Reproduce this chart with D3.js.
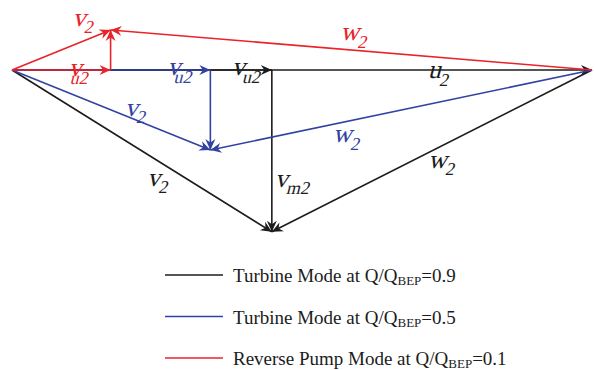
<!DOCTYPE html>
<html>
<head>
<meta charset="utf-8">
<script src="https://cdn.jsdelivr.net/npm/d3@7"></script>
<style>
  html, body { margin: 0; padding: 0; background: #fff; }
  svg { display: block; }
</style>
</head>
<body>
<svg id="chart" width="595" height="370"></svg>
<script>
// Outlet velocity triangles, all velocities normalised by blade speed u2.
const modeNames = ["Turbine Mode at Q/Q", "Turbine Mode at Q/Q", "Reverse Pump Mode at Q/Q"];
const modeSub = ["BEP", "BEP", "BEP"];
const flowRatio = ["0.9", "0.5", "0.1"];
const bladeSpeed = 1.0;                      // u2
const circumferential = [0.448, 0.342, 0.170]; // vu2 / u2
const meridional = [0.279, 0.138, -0.069];     // vm2 / u2 (negative: reversed flow)
const modeColors = ["#1c1c1c", "#3242a0", "#e8232a"];

// Vector labels: which triangle, which vector, where along it, and text offset.
const labels = [
  { mode: 0, vec: "vu2", t: 1.0,   dx: -40, dy: 5,  main: "v", sub: "u2", subDx: -1 },
  { mode: 0, vec: "u2",  t: 0.717, dx: 0,   dy: 8,  main: "u", sub: "2",  subDx: 0 },
  { mode: 0, vec: "v2",  t: 0.523, dx: -1,  dy: 31, main: "v", sub: "2",  subDx: 0 },
  { mode: 0, vec: "vm2", t: 0.722, dx: 3,   dy: 0,  main: "v", sub: "m2", subDx: 0 },
  { mode: 0, vec: "w2",  t: 0.5125,dx: 0,   dy: 15, main: "w", sub: "2",  subDx: 0 },
  { mode: 1, vec: "vu2", t: 1.0,   dx: -43, dy: 5,  main: "v", sub: "u2", subDx: -5 },
  { mode: 1, vec: "v2",  t: 0.569, dx: 0,   dy: 0,  main: "v", sub: "2",  subDx: 0 },
  { mode: 1, vec: "w2",  t: 0.679, dx: 0,   dy: 18, main: "w", sub: "2",  subDx: 0 },
  { mode: 2, vec: "v2",  t: 1.0,   dx: -38, dy: -4, main: "v", sub: "2",  subDx: 0 },
  { mode: 2, vec: "vu2", t: 1.0,   dx: -42, dy: 6,  main: "v", sub: "u2", subDx: -10 },
  { mode: 2, vec: "w2",  t: 0.523, dx: 0,   dy: -9, main: "w", sub: "2",  subDx: 0 }
];

const svg = d3.select("#chart");
svg.append("rect").attr("width", 595).attr("height", 370).attr("fill", "#fff");

// Equal units on both axes so the triangles keep their true shape.
const x = d3.scaleLinear().domain([0, bladeSpeed]).range([12, 592]);
const y = d3.scaleLinear().domain([0, bladeSpeed]).range([70, 650]);

// Barbed arrowheads, one per colour.
const defs = svg.append("defs");
modeColors.forEach((c, i) => {
  defs.append("marker")
    .attr("id", "arrow" + i)
    .attr("markerUnits", "userSpaceOnUse")
    .attr("viewBox", "-12 -6 14 12")
    .attr("markerWidth", 14).attr("markerHeight", 12)
    .attr("refX", 0).attr("refY", 0)
    .attr("orient", "auto")
    .append("path")
    .attr("d", "M0,0 L-11,-5 L-7.5,0 L-11,5 Z")
    .attr("fill", c);
});

function vectors(i) {
  const o = [x(0), y(0)];
  const tip = [x(circumferential[i]), y(0)];
  const apex = [x(circumferential[i]), y(meridional[i])];
  const rim = [x(bladeSpeed), y(0)];
  return {
    u2: [o, rim],
    vu2: [o, tip],
    vm2: [tip, apex],
    v2: [o, apex],
    w2: [rim, apex]
  };
}

const lw = 1.6;
const draw = svg.append("g");
function arrow(seg, i) {
  draw.append("line")
    .attr("x1", seg[0][0]).attr("y1", seg[0][1])
    .attr("x2", seg[1][0]).attr("y2", seg[1][1])
    .attr("stroke", modeColors[i]).attr("stroke-width", lw)
    .attr("marker-end", `url(#arrow${i})`);
}

// Blade speed, then each triangle from the bottom layer up.
arrow(vectors(0).u2, 0);
[0, 1, 2].forEach(i => {
  const v = vectors(i);
  arrow(v.vu2, i);
  arrow(v.vm2, i);
  arrow(v.v2, i);
  arrow(v.w2, i);
});

// Vector names, set in a slanted serif face.
const serif = "'Liberation Serif', 'Times New Roman', serif";
const txt = svg.append("g").attr("font-family", serif);
labels.forEach(l => {
  const seg = vectors(l.mode)[l.vec];
  const px = seg[0][0] + l.t * (seg[1][0] - seg[0][0]) + l.dx;
  const py = seg[0][1] + l.t * (seg[1][1] - seg[0][1]) + l.dy;
  const t = txt.append("text")
    .attr("transform", `translate(${px},${py}) skewX(-15)`)
    .attr("fill", modeColors[l.mode])
    .attr("font-size", 26);
  t.append("tspan").text(l.main);
  t.append("tspan")
    .attr("font-size", 18)
    .attr("dx", l.subDx).attr("dy", 7.5)
    .text(l.sub);
});

// Legend
const legend = svg.append("g").attr("font-family", serif);
modeNames.forEach((name, i) => {
  const ly = 275 + i * 41.5;
  legend.append("line")
    .attr("x1", 165).attr("x2", 223)
    .attr("y1", ly).attr("y2", ly)
    .attr("stroke", modeColors[i]).attr("stroke-width", 1.6);
  const t = legend.append("text")
    .attr("x", 233).attr("y", ly + 7)
    .attr("font-size", 19)
    .attr("fill", "#1c1c1c");
  t.append("tspan").text(name);
  t.append("tspan").attr("font-size", 13).attr("dy", 3).text(modeSub[i]);
  t.append("tspan").attr("dy", -3).text("=" + flowRatio[i]);
});
</script>
</body>
</html>
